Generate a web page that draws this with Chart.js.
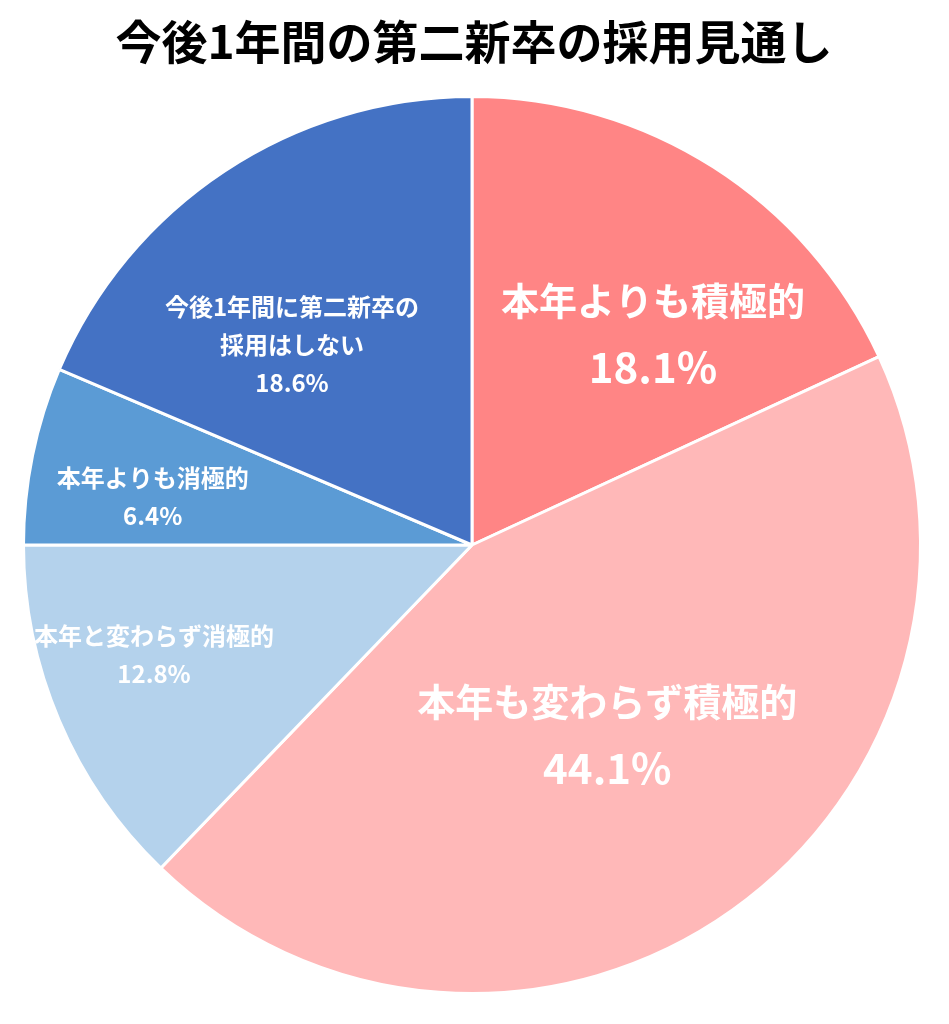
<!DOCTYPE html>
<html><head><meta charset="utf-8">
<script src="https://cdn.jsdelivr.net/npm/chart.js@4"></script>
<style>body{margin:0;background:#fff}canvas{display:block}</style>
</head><body>
<canvas id="c" width="949" height="1024"></canvas>
<script>
const titleText = '今後1年間の第二新卒の採用見通し';
const categories = [['本年よりも積極的'], ['本年も変わらず積極的'], ['本年と変わらず消極的'], ['本年よりも消極的'], ['今後1年間に第二新卒の', '採用はしない']];
const values = [18.1, 44.1, 12.8, 6.4, 18.6];
const colors = ['#FF8585', '#FFB8B8', '#B4D2EC', '#5B9BD5', '#4472C4'];
const labelRadius = [0.62, 0.52, 0.75, 0.72, 0.6];
const labelShift = [8, 0, 4, -3, -8.5]; // degrees
const labelSize = [38, 38, 24, 24, 24];

const labels = {
  id: 'labels',
  afterDatasetsDraw(chart) {
    const ctx = chart.ctx;
    ctx.save();
    ctx.textAlign = 'center';
    ctx.textBaseline = 'middle';
    ctx.font = 'bold 46px "Noto Sans CJK JP"';
    ctx.fillStyle = '#000';
    ctx.fillText(titleText, 474, 42);
    chart.getDatasetMeta(0).data.forEach((arc, i) => {
      const p = arc.getProps(['x', 'y', 'startAngle', 'endAngle', 'outerRadius']);
      const a = (p.startAngle + p.endAngle) / 2 + labelShift[i] * Math.PI / 180;
      const r = p.outerRadius * labelRadius[i];
      const x = p.x + Math.cos(a) * r, y = p.y + Math.sin(a) * r;
      const lines = [...categories[i], values[i].toFixed(1) + '%'];
      const lh = labelSize[i] > 30 ? 66 : 38;
      ctx.fillStyle = '#fff';
      lines.forEach((t, k) => {
        const sz = (k === lines.length - 1 && labelSize[i] > 30) ? labelSize[i] + 4 : labelSize[i];
        ctx.font = 'bold ' + sz + 'px "Noto Sans CJK JP"';
        ctx.fillText(t, x, y + (k - (lines.length - 1) / 2) * lh);
      });
    });
    ctx.restore();
  }
};

new Chart(document.getElementById('c'), {
  type: 'pie',
  data: {
    labels: categories.map(c => c.join('')),
    datasets: [{ data: values, backgroundColor: colors, borderColor: '#fff', borderWidth: 3 }]
  },
  options: {
    responsive: false,
    animation: false,
    layout: { padding: { top: 95, bottom: 29, left: 22, right: 27 } },
    plugins: { legend: { display: false }, tooltip: { enabled: false } }
  },
  plugins: [labels]
});
</script>
</body></html>
